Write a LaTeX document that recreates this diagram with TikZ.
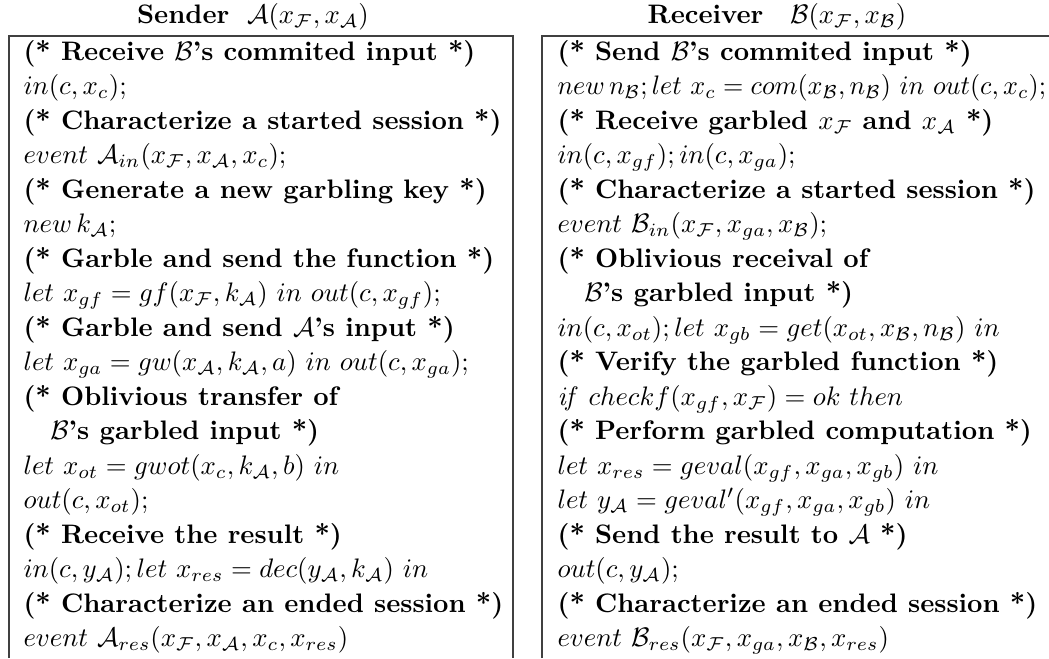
\documentclass[tikz,border=0pt]{standalone}
\usepackage{amsmath}
\usepackage{graphicx}
\begin{document}
\begin{tikzpicture}[x=0.3737pt,y=-0.3737pt,
  codeline/.style={anchor=base west,inner sep=0pt,font=\fontsize{10}{12}\selectfont},
  headline/.style={anchor=base,inner sep=0pt,font=\fontsize{10}{12}\selectfont},
  frame/.style={line width=0.6pt,draw=black!75}]
\useasboundingbox (0,0) rectangle (1049,658);
% frames
\coordinate (LTL) at (9,36);
\coordinate (LTR) at (513,36);
\coordinate (LBL) at (9,658);
\coordinate (LBR) at (513,658);
\coordinate (RTL) at (542,36);
\coordinate (RTR) at (1049,36);
\coordinate (RBL) at (542,658);
\draw[frame] (LBL) -- (LTL) -- (LTR) -- (LBR);
\draw[frame] (RBL) -- (RTL) -- (RTR);
% headers
\node[headline] (hA) at (253,23) {\textbf{Sender}\ \ $\mathcal{A}(x_\mathcal{F},x_\mathcal{A})$};
\node[headline] (hB) at (777,23) {\textbf{Receiver}\quad $\mathcal{B}(x_\mathcal{F},x_\mathcal{B})$};
% sender
\foreach \t [count=\i] in {
 {\textbf{(* Receive $\mathcal{B}$'s commited input *)}},
 {$in(c,x_c);$},
 {\textbf{(* Characterize a started session *)}},
 {$event\ \mathcal{A}_{in}(x_\mathcal{F},x_\mathcal{A},x_c);$},
 {\textbf{(* Generate a new garbling key *)}},
 {$new\,k_\mathcal{A};$},
 {\textbf{(* Garble and send the function *)}},
 {$let\ x_{gf}=gf(x_\mathcal{F},k_\mathcal{A})\ in\ out(c,x_{gf});$},
 {\textbf{(* Garble and send $\mathcal{A}$'s input *)}},
 {$let\ x_{ga}=gw(x_\mathcal{A},k_\mathcal{A},a)\ in\ out(c,x_{ga});$},
 {\textbf{(* Oblivious transfer of}},
 {\hspace*{10pt}\textbf{$\mathcal{B}$'s garbled input *)}},
 {$let\ x_{ot}=gwot(x_c,k_\mathcal{A},b)\ in$},
 {$out(c,x_{ot});$},
 {\textbf{(* Receive the result *)}},
 {$in(c,y_\mathcal{A});let\ x_{res}=dec(y_\mathcal{A},k_\mathcal{A})\ in$},
 {\textbf{(* Characterize an ended session *)}},
 {$event\ \mathcal{A}_{res}(x_\mathcal{F},x_\mathcal{A},x_c,x_{res})$}}
 \node[codeline] (A\i) at (23,{60+(\i-1)*34.5}) {\t};
% receiver
\foreach \t [count=\i] in {
 {\textbf{(* Send $\mathcal{B}$'s commited input *)}},
 {\scalebox{0.975}[1]{$new\,n_\mathcal{B};let\ x_c=com(x_\mathcal{B},n_\mathcal{B})\ in\ out(c,x_c);$}},
 {\textbf{(* Receive garbled $x_\mathcal{F}$ and $x_\mathcal{A}$ *)}},
 {$in(c,x_{gf});in(c,x_{ga});$},
 {\textbf{(* Characterize a started session *)}},
 {$event\ \mathcal{B}_{in}(x_\mathcal{F},x_{ga},x_\mathcal{B});$},
 {\textbf{(* Oblivious receival of}},
 {\hspace*{10pt}\textbf{$\mathcal{B}$'s garbled input *)}},
 {$in(c,x_{ot});let\ x_{gb}=get(x_{ot},x_\mathcal{B},n_\mathcal{B})\ in$},
 {\textbf{(* Verify the garbled function *)}},
 {$\mathit{if}\ checkf(x_{gf},x_\mathcal{F})=ok\ then$},
 {\textbf{(* Perform garbled computation *)}},
 {$let\ x_{res}=geval(x_{gf},x_{ga},x_{gb})\ in$},
 {$let\ y_\mathcal{A}=geval'(x_{gf},x_{ga},x_{gb})\ in$},
 {\textbf{(* Send the result to $\mathcal{A}$ *)}},
 {$out(c,y_\mathcal{A});$},
 {\textbf{(* Characterize an ended session *)}},
 {$event\ \mathcal{B}_{res}(x_\mathcal{F},x_{ga},x_\mathcal{B},x_{res})$}}
 \node[codeline] (B\i) at (557,{60+(\i-1)*34.5}) {\t};
\end{tikzpicture}
\end{document}
